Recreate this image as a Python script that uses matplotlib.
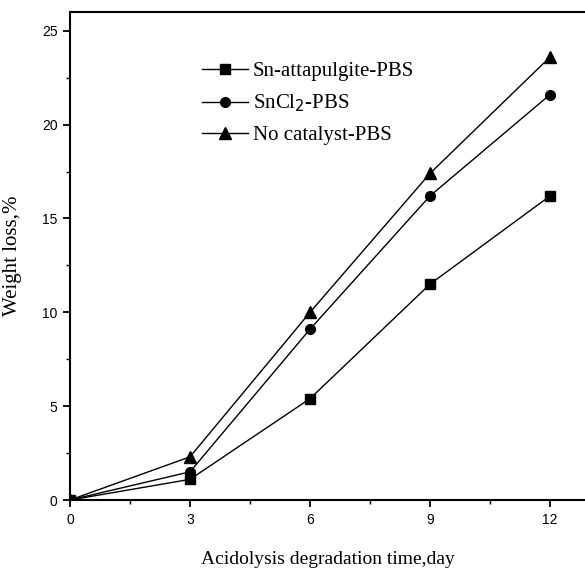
import matplotlib
matplotlib.use("Agg")
import matplotlib.pyplot as plt
from matplotlib.ticker import MultipleLocator

days = [0, 3, 6, 9, 12]
sn_attapulgite = [0.0, 1.1, 5.4, 11.5, 16.2]
sncl2 = [0.0, 1.5, 9.1, 16.2, 21.6]
no_catalyst = [0.0, 2.3, 10.0, 17.4, 23.6]
labels = ["Sn-attapulgite-PBS", "SnCl$_2$-PBS", "No catalyst-PBS"]

fig = plt.figure(figsize=(5.85, 5.71), dpi=100)
ax = fig.add_axes([70/585, 1-500/571, 1-70/585, (500-12)/571])

kw = dict(color="black", lw=1.0)
ax.plot(days, sn_attapulgite, marker="s", ms=7, label=labels[0], **kw)
ax.plot(days, sncl2, marker="o", ms=7, label=labels[1], **kw)
ax.plot(days, no_catalyst, marker="^", ms=8, label=labels[2], **kw)

ax.set_xlim(0, 12.875)
ax.set_ylim(0, 26.0)
ax.xaxis.set_major_locator(MultipleLocator(3))
ax.xaxis.set_minor_locator(MultipleLocator(1.5))
ax.yaxis.set_major_locator(MultipleLocator(5))
ax.yaxis.set_minor_locator(MultipleLocator(2.5))
ax.spines["right"].set_visible(False)
for s in ["left", "bottom", "top"]:
    ax.spines[s].set_linewidth(1.5)
ax.tick_params(which="major", direction="out", length=5, width=1.3,
               labelsize=10, pad=4)
ax.tick_params(which="minor", direction="out", length=3, width=1.0)
for lab in ax.get_xticklabels() + ax.get_yticklabels():
    lab.set_fontfamily("Liberation Sans")

ax.set_xlabel("Acidolysis degradation time,day", fontfamily="Liberation Serif",
              fontsize=14, labelpad=18)
ax.set_ylabel("Weight loss,%", fontfamily="Liberation Serif", fontsize=15)
ax.yaxis.set_label_coords(-0.093, 0.50)

leg = ax.legend(loc="upper left", bbox_to_anchor=(0.24, 0.915), frameon=False,
                prop={"family": "Liberation Serif", "size": 15},
                handlelength=2.2, handletextpad=0.25, labelspacing=0.55,
                borderaxespad=0)

fig.savefig("out.png", dpi=100)
